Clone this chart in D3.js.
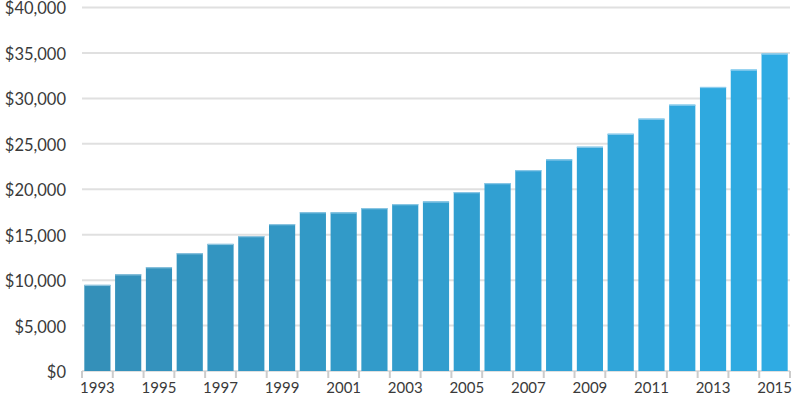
<!DOCTYPE html>
<html><head><meta charset="utf-8">
<script src="https://cdn.jsdelivr.net/npm/d3@7"></script>
<style>body{margin:0;background:#fff}svg{display:block}</style>
</head><body>
<script>
const years = [1993,1994,1995,1996,1997,1998,1999,2000,2001,2002,2003,2004,2005,2006,2007,2008,2009,2010,2011,2012,2013,2014,2015];
const values = [9480,10650,11430,12970,13990,14850,16170,17480,17460,17930,18370,18660,19690,20680,22110,23290,24680,26110,27770,29310,31260,33170,34930];
const yTicks = [0,5000,10000,15000,20000,25000,30000,35000,40000];
const xLabelYears = [1993,1995,1997,1999,2001,2003,2005,2007,2009,2011,2013,2015];

const W=792,H=395;
const svg=d3.select("body").append("svg").attr("width",W).attr("height",H);
const x=d3.scaleBand().domain(years).range([82,790]).paddingInner(0.15).paddingOuter(0.075);
const y=d3.scaleLinear().domain([0,40000]).range([371,7.5]);
const font="Lato, 'Open Sans', sans-serif";

// gridlines
svg.append("g").selectAll("line").data(yTicks).join("line")
 .attr("x1",82).attr("x2",790).attr("y1",d=>y(d)).attr("y2",d=>y(d))
 .attr("stroke","#e0e0e0").attr("stroke-width",2);
// y labels
svg.append("g").selectAll("text").data(yTicks).join("text")
 .attr("x",66).attr("y",d=>y(d)+1).attr("dy","0.36em").attr("text-anchor","end")
 .attr("font-family",font).attr("font-size",16.5).attr("fill","#3a3a3a")
 .text(d=>"$"+d3.format(",")(d));

const col=d3.scaleLinear().domain([0,years.length-1]).range(["#3490b9","#2fabe3"]);
const colTop=d3.scaleLinear().domain([0,years.length-1]).range(["#8fc3dc","#8ccdef"]);
// bars
svg.append("g").selectAll("rect").data(years).join("rect")
 .attr("x",d=>x(d)).attr("width",x.bandwidth())
 .attr("y",(d,i)=>y(values[i])).attr("height",(d,i)=>y(0)-y(values[i]))
 .attr("fill",(d,i)=>col(i));
svg.append("g").selectAll("rect").data(years).join("rect")
 .attr("x",d=>x(d)).attr("width",x.bandwidth())
 .attr("y",(d,i)=>y(values[i])).attr("height",1.2)
 .attr("fill",(d,i)=>colTop(i));

// x ticks at band boundaries
const step=x.step();
const bounds=years.map(d=>x(d)-x.paddingInner()*step/2).concat([x(years[years.length-1])+x.bandwidth()+x.paddingInner()*step/2]);
svg.append("g").selectAll("line").data(bounds).join("line")
 .attr("x1",d=>d).attr("x2",d=>d).attr("y1",371).attr("y2",378)
 .attr("stroke","#cccccc").attr("stroke-width",2);
// x labels
svg.append("g").selectAll("text").data(xLabelYears).join("text")
 .attr("x",d=>x(d)+x.bandwidth()/2).attr("y",393).attr("text-anchor","middle")
 .attr("font-family",font).attr("font-size",15).attr("fill","#3a3a3a")
 .text(d=>d);
</script>
</body></html>
